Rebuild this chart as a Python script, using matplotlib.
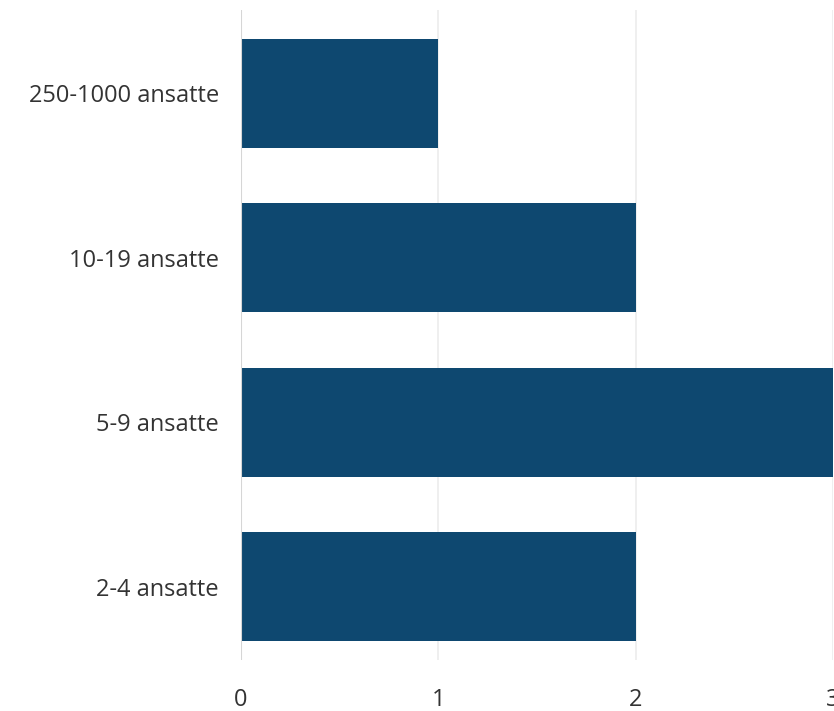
import matplotlib
matplotlib.use('Agg')
import matplotlib.pyplot as plt

categories = ["2-4 ansatte", "5-9 ansatte", "10-19 ansatte", "250-1000 ansatte"]
counts = [2, 3, 2, 1]
x_ticks = [0, 1, 2, 3]

plt.rcParams['font.family'] = ['Open Sans', 'DejaVu Sans']

fig = plt.figure(figsize=(8.34, 7.11), dpi=100)
ax = fig.add_axes([241 / 834, 1 - 660 / 711, 592 / 834, 650 / 711])

ax.barh(range(len(categories)), counts, height=0.665, color='#0e4870', zorder=2)

ax.set_xlim(0, 3)
ax.set_ylim(-0.447, 3.508)
ax.set_yticks(range(len(categories)))
ax.set_yticklabels(categories)
ax.set_xticks(x_ticks)
ax.set_xticklabels([str(t) for t in x_ticks])

for t in x_ticks[1:]:
    ax.axvline(t, color='#ececec', linewidth=1.2, zorder=1)
ax.axvline(0, color='#d6d6d6', linewidth=1.5, zorder=3)

for s in ax.spines.values():
    s.set_visible(False)
ax.tick_params(axis='both', length=0, labelsize=17, colors='#333333')
ax.tick_params(axis='y', pad=16)
ax.tick_params(axis='x', pad=20)

fig.savefig('out.png', dpi=100)
